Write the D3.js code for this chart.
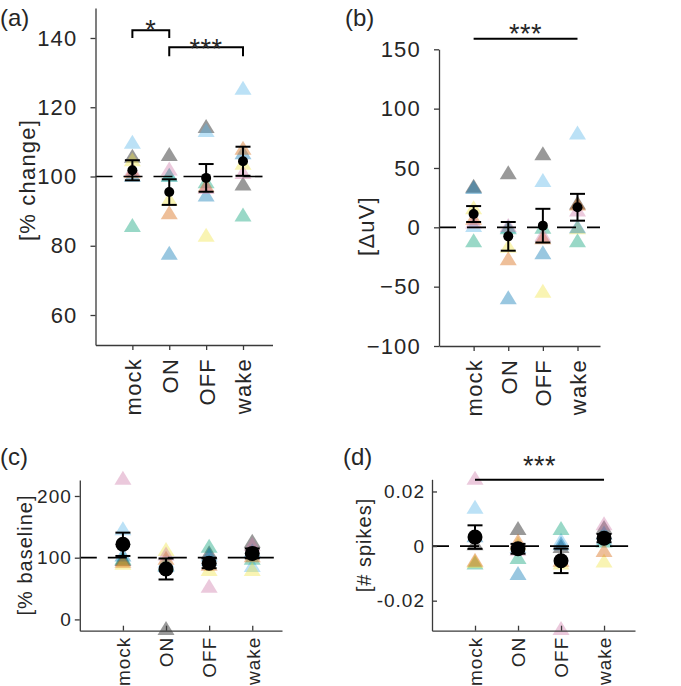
<!DOCTYPE html>
<html><head><meta charset="utf-8">
<script src="https://cdn.jsdelivr.net/npm/d3@7"></script>
<style>
body{margin:0;background:#fff;}
svg text{font-family:"Liberation Sans",Arial,Helvetica,sans-serif;fill:#262626;}
</style>
</head><body>
<svg id="chart" width="681" height="686"></svg>
<script>
// ---------------- data ----------------
const conditions = ["mock", "ON", "OFF", "wake"];
const subjectColors = ["#000000", "#56B4E9", "#009E73", "#F0E442", "#0072B2", "#D55E00", "#CC79A7"];

// (a) % change — rows: subjects, columns: mock, ON, OFF, wake
const aValues = [
  [106, 106.5, 114.6, 98],
  [110, 100.5, 113.4, 125.6],
  [86, 100.5, 98.6, 89],
  [105, 93.6, 83.2, 104],
  [100.5, 78, 94.8, 107],
  [101.5, 89.7, 97.5, 108.3],
  [102, 102.3, 97, 101.3]
];
const aMean = [101.8, 95.5, 99.6, 104.4];
const aSem = [2.9, 3.7, 4.0, 4.2];
const aTicks = [60, 80, 100, 120, 140];

// (b) ΔuV
const bValues = [
  [35, 46.4, 62.4, 21],
  [2, 1, 39.9, 80],
  [-11, 0, 0.5, -11],
  [17, -15.5, -53.4, 0],
  [34, -59, -21, 1],
  [8, -26, -8.4, 20],
  [5, 2, -6, 15]
];
const bMean = [11.2, -7.6, 1.4, 16.9];
const bSem = [6.7, 12.1, 14.2, 11.3];
const bTicks = [-100, -50, 0, 50, 100, 150];

// (c) % baseline
const cValues = [
  [98, -14, 108.7, 127.6],
  [147.6, 95, 98, 88],
  [100, 90, 119.5, 100],
  [92, 114, 81.7, 81.7],
  [105, 88, 105, 112],
  [95, 100, 90, 104],
  [229.7, 107, 54.6, 122]
];
const cMean = [121.7, 81.7, 91.0, 107.0];
const cSem = [18.9, 17.0, 8.0, 8.0];
const cTicks = [0, 100, 200];

// (d) # spikes
const dValues = [
  [0.001, 0.0066, 0.0, 0.007],
  [0.0144, 0.0, 0.0023, 0.003],
  [-0.006, -0.004, 0.0066, 0.002],
  [-0.0055, 0.001, -0.006, -0.0053],
  [0.004, -0.0099, 0.001, 0.005],
  [-0.005, 0.002, -0.005, -0.0014],
  [0.025, -0.001, -0.030, 0.0084]
];
const dMean = [0.0033, -0.0010, -0.0054, 0.0029];
const dSem = [0.0043, 0.0018, 0.0045, 0.0015];
const dTicks = [-0.02, 0, 0.02];
const dTickLabels = ["-0.02", "0", "0.02"];

// ---------------- drawing ----------------
const svg = d3.select("#chart");
const axisColor = "#3a3a3a";
const triPath = "M-8.5,7L8.5,7L0,-7Z";

function drawPanel(p) {
  const g = svg.append("g");
  const x = d3.scaleLinear().domain([0, p.xMax]).range(p.xRange);
  const y = d3.scaleLinear().domain(p.yDomain).range(p.yRange);

  // triangles (individual subjects)
  p.values.forEach((row, si) => {
    g.selectAll(null).data(row).enter().append("path")
      .attr("d", triPath)
      .attr("transform", (v, ci) => `translate(${x(ci + 1)},${y(v)})`)
      .attr("fill", subjectColors[si])
      .attr("fill-opacity", 0.4);
  });

  // dashed reference line
  g.append("line")
    .attr("x1", x(0)).attr("x2", x(p.refEnd))
    .attr("y1", y(p.ref)).attr("y2", y(p.ref))
    .attr("stroke", "#000").attr("stroke-width", 1.7)
    .attr("stroke-dasharray", "19,11").attr("stroke-dashoffset", 2);

  // error bars
  const eb = g.selectAll(null).data(p.mean).enter().append("g");
  eb.append("line")
    .attr("x1", (m, i) => x(i + 1)).attr("x2", (m, i) => x(i + 1))
    .attr("y1", (m, i) => y(m - p.sem[i])).attr("y2", (m, i) => y(m + p.sem[i]))
    .attr("stroke", "#000").attr("stroke-width", 2);
  [-1, 1].forEach(s => {
    eb.append("line")
      .attr("x1", (m, i) => x(i + 1) - 7.5).attr("x2", (m, i) => x(i + 1) + 7.5)
      .attr("y1", (m, i) => y(m + s * p.sem[i])).attr("y2", (m, i) => y(m + s * p.sem[i]))
      .attr("stroke", "#000").attr("stroke-width", 2);
  });
  eb.append("circle")
    .attr("cx", (m, i) => x(i + 1)).attr("cy", m => y(m))
    .attr("r", p.dotR).attr("fill", "#000");

  // y axis
  const ya = d3.axisLeft(y).tickValues(p.yTicks).tickSizeOuter(0)
    .tickSizeInner(p.yTickIn ? -5 : 5).tickPadding(p.yPad + (p.yTickIn ? 5 : 0));
  if (p.yTickLabels) ya.tickFormat((d, i) => p.yTickLabels[i]);
  const yg = g.append("g").attr("transform", `translate(${p.xRange[0]},0)`).call(ya);
  yg.select(".domain").attr("stroke", axisColor).attr("stroke-width", 1.3);
  yg.selectAll(".tick line").attr("stroke", axisColor).attr("stroke-width", 1.3);
  yg.selectAll(".tick text").attr("font-size", p.tickFont + "px").style("letter-spacing", p.ls + "px")
    .attr("fill", "#262626");

  // x axis
  const xa = d3.axisBottom(x).tickValues([1, 2, 3, 4]).tickFormat((d, i) => conditions[i])
    .tickSizeOuter(0).tickSizeInner(p.xTickIn ? -5 : 5);
  const xg = g.append("g").attr("transform", `translate(0,${p.yRange[0]})`).call(xa);
  xg.select(".domain").attr("stroke", axisColor).attr("stroke-width", 1.3);
  xg.selectAll(".tick line").attr("stroke", axisColor).attr("stroke-width", 1.3);
  xg.selectAll(".tick text")
    .attr("transform", "rotate(-90)")
    .attr("text-anchor", "end")
    .attr("x", -p.xLabGap).attr("y", 0).attr("dy", "0.36em")
    .attr("font-size", p.xFont + "px").style("letter-spacing", p.ls + "px")
    .attr("fill", "#262626");

  // y label
  svg.append("text")
    .attr("transform", `translate(${p.yLab[0]},${p.yLab[1]}) rotate(-90)`)
    .attr("text-anchor", "middle").attr("dy", "0.36em")
    .attr("font-size", p.yLabFont + "px").style("letter-spacing", p.ls + "px")
    .text(p.yLabel);

  // panel letter
  svg.append("text").attr("x", p.letterPos[0]).attr("y", p.letterPos[1])
    .attr("font-size", "24px").text(p.letter);

  return { g, x, y };
}

// panel (a)
const A = drawPanel({
  values: aValues, mean: aMean, sem: aSem, yTicks: aTicks,
  xMax: 4.8, xRange: [95.5, 272.5], yDomain: [51.34, 148.66], yRange: [345, 8],
  ref: 100, refEnd: 4.8, dotR: 5, yTickIn: false, xTickIn: false, yPad: 13,
  tickFont: 22, xFont: 22, ls: 1.2, xLabGap: 13, yLabFont: 22,
  yLabel: "[% change]", yLab: [27, 180], letter: "(a)", letterPos: [0, 26]
});
// significance (a)
function bracket(P, i1, i2, topV, legV, label, txtOff) {
  const xa = P.x(i1), xb = P.x(i2), yt = P.y(topV), yl = P.y(legV);
  P.g.append("path").attr("d", `M${xa},${yl}V${yt}H${xb}V${yl}`)
    .attr("fill", "none").attr("stroke", "#000").attr("stroke-width", 2);
  P.g.append("text").attr("x", (xa + xb) / 2).attr("y", yt + txtOff)
    .attr("text-anchor", "middle").attr("font-size", "27px").style("letter-spacing", "0.5px").text(label);
}
bracket(A, 1, 2, 142.2, 140.0, "*", 9);
bracket(A, 2, 4, 137.3, 134.7, "***", 11);

// panel (b)
const B = drawPanel({
  values: bValues, mean: bMean, sem: bSem, yTicks: bTicks,
  xMax: 4.65, xRange: [439, 600], yDomain: [-100, 150], yRange: [346, 49.3],
  ref: 0, refEnd: 4.65, dotR: 5, yTickIn: false, xTickIn: false, yPad: 13,
  tickFont: 22, xFont: 22, ls: 1.2, xLabGap: 13, yLabFont: 22,
  yLabel: "[ΔuV]", yLab: [366, 226], letter: "(b)", letterPos: [345, 26]
});
{
  const yl = B.y(158.9);
  B.g.append("line").attr("x1", B.x(1)).attr("x2", B.x(4)).attr("y1", yl).attr("y2", yl)
    .attr("stroke", "#000").attr("stroke-width", 2);
  B.g.append("text").attr("x", (B.x(1) + B.x(4)) / 2).attr("y", yl + 4.5)
    .attr("text-anchor", "middle").attr("font-size", "27px").style("letter-spacing", "0.5px").text("***");
}

// panel (c)
drawPanel({
  values: cValues, mean: cMean, sem: cSem, yTicks: cTicks,
  xMax: 4.69, xRange: [79.8, 282], yDomain: [-18.3, 225.9], yRange: [630.7, 480],
  ref: 100, refEnd: 4.5, dotR: 7.5, yTickIn: false, xTickIn: true, yPad: 3,
  tickFont: 19, xFont: 19, ls: 1, xLabGap: 6, yLabFont: 20,
  yLabel: "[% baseline]", yLab: [25, 555], letter: "(c)", letterPos: [0, 465]
});

// panel (d)
const D = drawPanel({
  values: dValues, mean: dMean, sem: dSem, yTicks: dTicks, yTickLabels: dTickLabels,
  xMax: 4.72, xRange: [432, 635], yDomain: [-0.0310, 0.02446], yRange: [630.7, 479.3],
  ref: 0, refEnd: 4.56, dotR: 7.5, yTickIn: true, xTickIn: true, yPad: 2,
  tickFont: 19, xFont: 19, ls: 1, xLabGap: 6, yLabFont: 20,
  yLabel: "[# spikes]", yLab: [364, 545], letter: "(d)", letterPos: [343, 465]
});
{
  const yl = D.y(0.0243);
  D.g.append("line").attr("x1", D.x(1)).attr("x2", D.x(4)).attr("y1", yl).attr("y2", yl)
    .attr("stroke", "#000").attr("stroke-width", 2);
  D.g.append("text").attr("x", (D.x(1) + D.x(4)) / 2).attr("y", yl - 4.5)
    .attr("text-anchor", "middle").attr("font-size", "27px").style("letter-spacing", "0.5px").text("***");
}
</script>
</body></html>
